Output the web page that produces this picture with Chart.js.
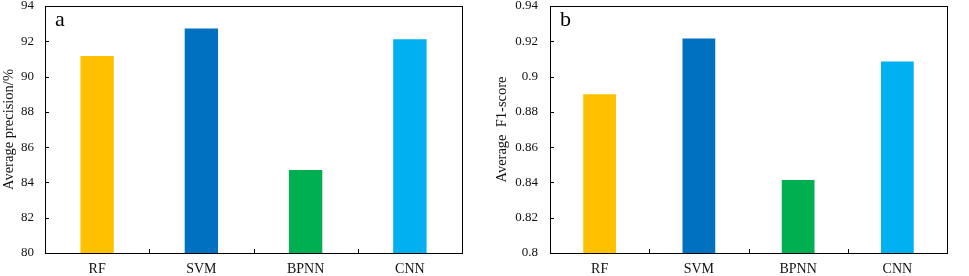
<!DOCTYPE html>
<html>
<head>
<meta charset="utf-8">
<script src="https://cdn.jsdelivr.net/npm/chart.js@4.4.0/dist/chart.umd.min.js"></script>
<style>
  body { margin: 0; background: #fff; }
  .wrap { display: flex; width: 969px; height: 276px; }
  canvas { display: block; }
</style>
</head>
<body>
<div class="wrap">
  <canvas id="chartA" width="485" height="276"></canvas>
  <canvas id="chartB" width="484" height="276"></canvas>
</div>
<script>
// categories and values
const models = ['RF', 'SVM', 'BPNN', 'CNN'];
const barColors = ['#FFC000', '#0070C0', '#00B050', '#00B0F0'];
const precisionValues = [91.17, 92.73, 84.70, 92.12];
const f1Values = [0.890, 0.9216, 0.8414, 0.9085];
const precisionTicks = [80, 82, 84, 86, 88, 90, 92, 94];
const f1Ticks = [0.8, 0.82, 0.84, 0.86, 0.88, 0.9, 0.92, 0.94];

const serif = '"Liberation Serif", "Times New Roman", serif';

// box around plot area, inward tick marks and the panel letter
const frameTicks = {
  id: 'frameTicks',
  afterDraw(chart, args, opts) {
    const { ctx, chartArea: a, scales } = chart;
    ctx.save();
    ctx.strokeStyle = '#000';
    ctx.lineWidth = 1;
    ctx.strokeRect(Math.round(a.left) + 0.5, Math.round(a.top) + 0.5,
      Math.round(a.right - a.left), Math.round(a.bottom - a.top));
    ctx.beginPath();
    scales.y.ticks.forEach(t => {
      const y = Math.round(scales.y.getPixelForValue(t.value)) + 0.5;
      ctx.moveTo(a.left, y);
      ctx.lineTo(a.left + 4, y);
    });
    const step = (a.right - a.left) / models.length;
    for (let i = 1; i < models.length; i++) {
      const x = Math.round(a.left + step * i) + 0.5;
      ctx.moveTo(x, a.bottom);
      ctx.lineTo(x, a.bottom - 4);
    }
    ctx.stroke();
    ctx.fillStyle = '#000';
    ctx.font = '22px ' + serif;
    ctx.textBaseline = 'alphabetic';
    ctx.fillText(opts.letter, a.left + 10, a.top + 20);
    ctx.restore();
  }
};

function makeChart(id, values, tickList, title, cfg) {
  new Chart(document.getElementById(id), {
    type: 'bar',
    data: {
      labels: models,
      datasets: [{
        data: values,
        backgroundColor: barColors,
        borderWidth: 0,
        categoryPercentage: 1,
        barPercentage: cfg.barPct
      }]
    },
    options: {
      responsive: false,
      animation: false,
      layout: { padding: { top: 6, right: cfg.padRight, bottom: 0, left: 0 } },
      plugins: {
        legend: { display: false },
        tooltip: { enabled: false },
        frameTicks: { letter: cfg.letter }
      },
      scales: {
        x: {
          grid: { display: false, drawTicks: false },
          border: { display: false },
          ticks: { color: '#111', font: { family: serif, size: 14 }, padding: 8 },
          afterFit: s => { s.height = 23; s.paddingLeft = 0; s.paddingRight = 0; }
        },
        y: {
          min: tickList[0],
          max: tickList[tickList.length - 1],
          afterBuildTicks: s => { s.ticks = tickList.map(v => ({ value: v })); },
          grid: { display: false, drawTicks: false },
          border: { display: false },
          ticks: {
            color: '#111',
            font: { family: serif, size: 13 },
            padding: cfg.tickPad,
            callback: v => String(v)
          },
          title: {
            display: true,
            text: title,
            color: '#111',
            font: { family: serif, size: 14.5 },
            padding: { top: cfg.titlePad, bottom: 0 }
          },
          afterFit: s => { s.width = cfg.axisWidth; s.paddingTop = 0; s.paddingBottom = 0; }
        }
      }
    },
    plugins: [frameTicks]
  });
}

makeChart('chartA', precisionValues, precisionTicks, 'Average precision/%',
  { letter: 'a', axisWidth: 45, padRight: 23, tickPad: 11, titlePad: 0, barPct: 0.32 });
makeChart('chartB', f1Values, f1Ticks, 'Average  F1-score',
  { letter: 'b', axisWidth: 65, padRight: 22, tickPad: 12, titlePad: 8, barPct: 0.33 });
</script>
</body>
</html>
